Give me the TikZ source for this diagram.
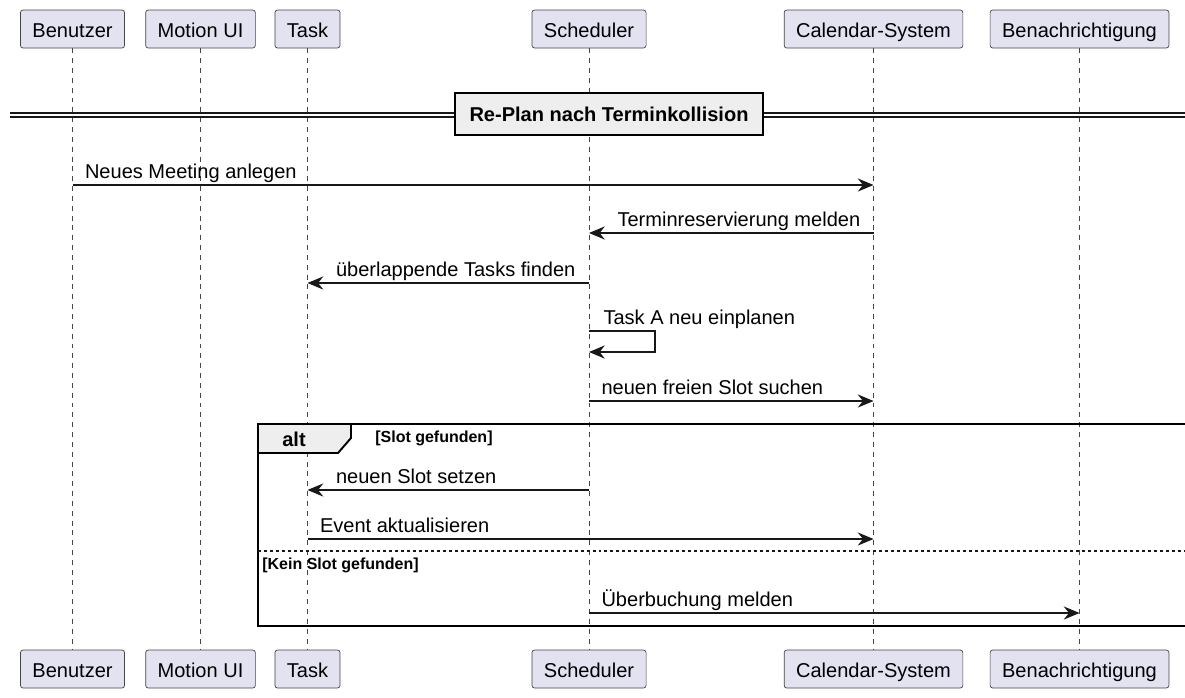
\documentclass[tikz,border=0pt]{standalone}
\usepackage{fontspec}
\setmainfont{Liberation Sans}
\usetikzlibrary{arrows.meta}

\definecolor{umlbox}{HTML}{E2E2F0}
\definecolor{umlline}{HTML}{181818}
\definecolor{umlgroup}{HTML}{EEEEEE}
\newcommand{\umlfont}{\fontsize{11.4}{13.7}\selectfont}
\newcommand{\guardfont}{\fontsize{9.1}{11}\selectfont\bfseries}

\begin{document}
\begin{tikzpicture}[x=0.02cm, y=-0.02cm, >={Stealth[length=9pt, width=7.5pt, inset=3pt]}]
    \tikzstyle{actor}=[draw=umlline!80, fill=umlbox, rounded corners=1.5pt, line width=0.4pt, minimum height=0.76cm, inner xsep=0.24cm, text height=9.4pt, text depth=0pt, font=\umlfont]
    \tikzstyle{lifeline}=[draw=umlline!80, line width=0.5pt, dash pattern=on 2.8pt off 2.8pt]
    \tikzstyle{msg}=[->, draw=umlline, line width=0.6pt]
    \tikzstyle{msg label}=[font=\umlfont, inner sep=0pt, anchor=base west, yshift=0.13cm, xshift=0.24cm]
    \tikzstyle{back label}=[font=\umlfont, inner sep=0pt, anchor=base west, yshift=0.13cm, xshift=0.56cm]
    \tikzstyle{frame}=[draw=black, line width=1.1pt]
    \tikzstyle{guard}=[font=\guardfont, inner sep=0pt, anchor=west]

    \path[use as bounding box, fill=white] (0,0) rectangle (1185,697);

    % Draw the participants (top and bottom) and their lifelines
    \foreach \name / \x / \txt in {usr/72.5/Benutzer, ui/200.5/Motion UI, task/307.5/Task, sch/589/Scheduler, cal/873.5/Calendar-System, note/1079.5/Benachrichtigung}
    {
        \node[actor] (\name-top) at (\x,29) {\txt};
        \node[actor] (\name-bot) at (\x,669) {\txt};
        \draw[lifeline] (\name-top) -- (\name-bot);
    }

    % Divider
    \draw[umlline, line width=0.6pt] (10,113) -- (1185,113) (10,117) -- (1185,117);
    \node[draw=black, line width=1.1pt, fill=umlgroup, minimum height=0.84cm, inner xsep=0.29cm, font=\umlfont\bfseries] (replan) at (609,114) {Re-Plan nach Terminkollision};

    % Messages
    \draw[msg] (usr-top |- 0,185) -- node[msg label, pos=0] (m1) {Neues Meeting anlegen} (cal-top |- 0,185);
    \draw[msg] (cal-top |- 0,233) -- node[back label, pos=1] (m2) {Terminreservierung melden} (sch-top |- 0,233);
    \draw[msg] (sch-top |- 0,283) -- node[back label, pos=1] (m3) {überlappende Tasks finden} (task-top |- 0,283);
    \draw[msg] (sch-top |- 0,331) -- node[msg label, pos=0, xshift=0.04cm] (m4) {Task A neu einplanen} ++(66,0) -- ++(0,21) -- (sch-top |- 0,352);
    \draw[msg] (sch-top |- 0,401) -- node[msg label, pos=0] (m5) {neuen freien Slot suchen} (cal-top |- 0,401);

    % alt fragment
    \draw[frame] (1186,424) -- (258,424) -- (258,626) -- (1186,626);
    \draw[frame, fill=umlgroup] (258,424) -- (351,424) -- (351,438) -- (338,453) -- (258,453) -- cycle;
    \node[font=\umlfont\bfseries, inner sep=0pt, anchor=west] (alt) at (282,439) {alt};
    \node[guard] (g1) at (375,438) {[Slot gefunden]};
    \draw[msg] (sch-top |- 0,490) -- node[back label, pos=1] (m6) {neuen Slot setzen} (task-top |- 0,490);
    \draw[msg] (task-top |- 0,539) -- node[msg label, pos=0] (m7) {Event aktualisieren} (cal-top |- 0,539);
    \draw[umlline, line width=0.6pt, dash pattern=on 1.7pt off 1.7pt] (258,551) -- (1186,551);
    \node[guard] (g2) at (262,565) {[Kein Slot gefunden]};
    \draw[msg] (sch-top |- 0,613) -- node[msg label, pos=0] (m8) {Überbuchung melden} (note-top |- 0,613);
\end{tikzpicture}
\end{document}
